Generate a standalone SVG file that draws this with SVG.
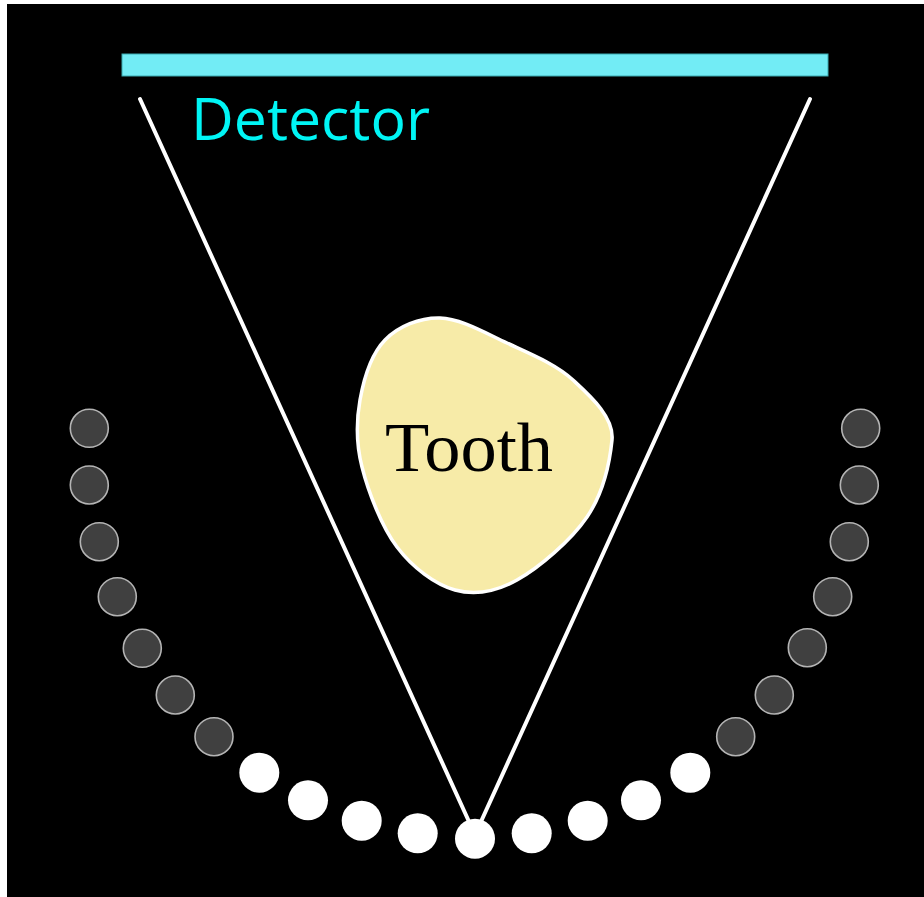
<svg xmlns="http://www.w3.org/2000/svg" width="924" height="897" viewBox="0 0 924 897">
<style>
.src{fill:#ffffff;stroke:none}
.off{fill:#404040;stroke:#b4b4b4;stroke-width:1.6}
.ray{stroke:#ffffff;stroke-width:4;fill:none;stroke-linecap:round}
</style>
<rect x="0" y="0" width="924" height="897" fill="#ffffff"/>
<rect x="7" y="4" width="917" height="893" fill="#000000"/>
<g id="detector">
<rect x="122" y="54" width="706" height="22" fill="#72ecf5" stroke="#3aa9b0" stroke-width="1"/>
<text x="191" y="140" font-family="'Open Sans','DejaVu Sans',sans-serif" font-size="59" fill="#00f5f5" textLength="239" lengthAdjust="spacingAndGlyphs">Detector</text>
</g>
<g id="tooth">
<path d="M 440,318 C 460.3,318.5 484.8,332.7 507,343 C 529.2,353.3 555.5,363.8 573,380 C 590.5,396.2 614.3,417.2 612,440 C 609.7,462.8 602.8,493.7 587,517 C 571.2,540.3 539,567.8 517,580 C 495,592.2 475,595.5 455,590 C 435,584.5 412.5,567.5 397,547 C 381.5,526.5 368.2,491.5 362,467 C 355.8,442.5 356.2,421.2 360,400 C 363.8,378.8 371.7,353.7 385,340 C 398.3,326.3 419.7,317.5 440,318 Z" fill="#f7eba8" stroke="#ffffff" stroke-width="3.5"/>
<text x="385" y="471" font-family="'Liberation Serif','DejaVu Serif',serif" font-size="70" fill="#000000" textLength="168" lengthAdjust="spacingAndGlyphs">Tooth</text>
</g>
<g id="connectors">
<line class="ray" x1="140" y1="99" x2="471" y2="826"/>
<line class="ray" x1="810" y1="99" x2="479" y2="826"/>
</g>
<g id="sources-inactive">
<circle class="off" cx="89.3" cy="428.3" r="19"/>
<circle class="off" cx="89.3" cy="485" r="19"/>
<circle class="off" cx="99.3" cy="541.7" r="19"/>
<circle class="off" cx="117.3" cy="596.7" r="19"/>
<circle class="off" cx="142.3" cy="648.3" r="19"/>
<circle class="off" cx="175.3" cy="695" r="19"/>
<circle class="off" cx="214" cy="736.7" r="19"/>
<circle class="off" cx="860.7" cy="428.3" r="19"/>
<circle class="off" cx="859.3" cy="485" r="19"/>
<circle class="off" cx="849.3" cy="541.7" r="19"/>
<circle class="off" cx="832.7" cy="596.7" r="19"/>
<circle class="off" cx="807.3" cy="647.7" r="19"/>
<circle class="off" cx="774.3" cy="695" r="19"/>
<circle class="off" cx="735.7" cy="736.7" r="19"/>
</g>
<g id="sources-active">
<circle class="src" cx="259.3" cy="772.7" r="20"/>
<circle class="src" cx="308" cy="800.3" r="20"/>
<circle class="src" cx="361.7" cy="820.7" r="20"/>
<circle class="src" cx="417.7" cy="833.3" r="20"/>
<circle class="src" cx="475" cy="838.7" r="20"/>
<circle class="src" cx="531.7" cy="833.3" r="20"/>
<circle class="src" cx="587.7" cy="820.7" r="20"/>
<circle class="src" cx="641" cy="800.3" r="20"/>
<circle class="src" cx="690.3" cy="772.7" r="20"/>
</g>
</svg>
